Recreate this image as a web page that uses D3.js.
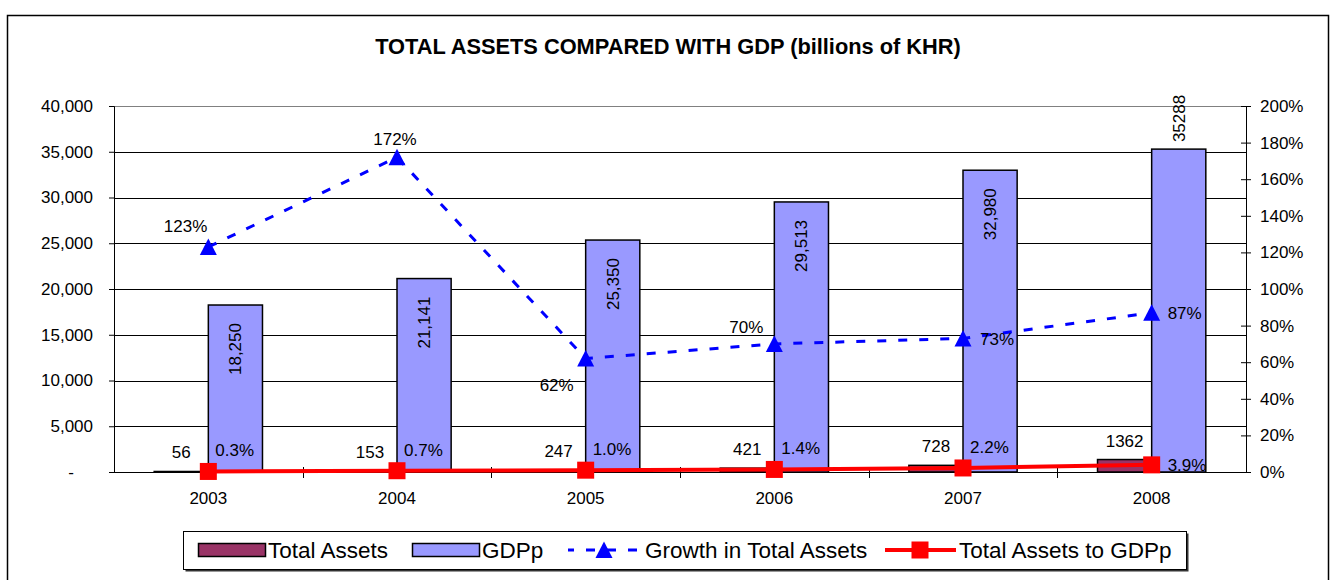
<!DOCTYPE html>
<html>
<head>
<meta charset="utf-8">
<script src="https://cdn.jsdelivr.net/npm/d3@7"></script>
<style>
  html, body { margin: 0; padding: 0; background: #fff; }
  svg { display: block; font-family: Arial, "Liberation Sans", sans-serif; }
</style>
</head>
<body>
<svg id="chart" width="1335" height="580"></svg>
<script>
// ---- data ----
const years = ['2003', '2004', '2005', '2006', '2007', '2008'];
const totalAssets = [56, 153, 247, 421, 728, 1362];
const gdp = [18250, 21141, 25350, 29513, 32980, 35288];
const gdpLabels = ['18,250', '21,141', '25,350', '29,513', '32,980', '35288'];
const growth = [1.23, 1.72, 0.62, 0.70, 0.73, 0.87];
const ratio = [0.003, 0.007, 0.010, 0.014, 0.022, 0.039];
const leftTicks = [0, 5000, 10000, 15000, 20000, 25000, 30000, 35000, 40000];
const rightTicks = [0, 0.2, 0.4, 0.6, 0.8, 1.0, 1.2, 1.4, 1.6, 1.8, 2.0];
const seriesNames = ['Total Assets', 'GDPp', 'Growth in Total Assets', 'Total Assets to GDPp'];
const titleText = 'TOTAL ASSETS COMPARED WITH GDP (billions of KHR)';

// ---- layout ----
const svg = d3.select('#chart');
const plot = { left: 114, right: 1246, top: 106, bottom: 472 };
const colTA = '#993366', colGDP = '#9999FF', colGrowth = '#0000FF', colRatio = '#FF0000';

const x = d3.scaleBand().domain(years).range([plot.left, plot.right]).padding(0);
const yL = d3.scaleLinear().domain([0, 40000]).range([plot.bottom, plot.top]);
const yR = d3.scaleLinear().domain([0, 2]).range([plot.bottom, plot.top]);
const cx = d => x(d) + x.bandwidth() / 2;
const barW = x.bandwidth() * 0.287;

svg.append('rect').attr('width', 1335).attr('height', 580).attr('fill', '#fff');
// outer chart border
svg.append('rect').attr('x', 7.5).attr('y', 15.5).attr('width', 1321).attr('height', 600)
  .attr('fill', 'none').attr('stroke', '#000').attr('stroke-width', 1.5);

// title
svg.append('text').attr('x', 668).attr('y', 54).attr('text-anchor', 'middle')
  .attr('font-size', 21.8).attr('font-weight', 'bold').text(titleText);

// gridlines
svg.append('g').selectAll('line').data(leftTicks.filter(t => t > 0)).join('line')
  .attr('x1', plot.left).attr('x2', plot.right)
  .attr('y1', d => Math.round(yL(d)) + 0.5).attr('y2', d => Math.round(yL(d)) + 0.5)
  .attr('stroke', d => d === 40000 ? '#808080' : '#000').attr('stroke-width', 1)
  .attr('shape-rendering', 'crispEdges');

// bars
svg.append('g').selectAll('rect').data(years).join('rect')
  .attr('x', (d) => cx(d) - barW).attr('width', barW)
  .attr('y', (d, i) => yL(totalAssets[i])).attr('height', (d, i) => yL(0) - yL(totalAssets[i]))
  .attr('fill', colTA).attr('stroke', '#000').attr('stroke-width', 1.5);
svg.append('g').selectAll('rect').data(years).join('rect')
  .attr('x', (d) => cx(d)).attr('width', barW)
  .attr('y', (d, i) => yL(gdp[i])).attr('height', (d, i) => yL(0) - yL(gdp[i]))
  .attr('fill', colGDP).attr('stroke', '#000').attr('stroke-width', 1.5);

// left axis
const leftAxis = d3.axisLeft(yL).tickValues(leftTicks).tickSize(5).tickPadding(16)
  .tickFormat(d => d === 0 ? '-' : d3.format(',')(d));
const gL = svg.append('g').attr('transform', `translate(${plot.left},0)`).call(leftAxis);
gL.selectAll('text').attr('font-size', 17).attr('fill', '#000')
  .attr('dx', d => d === 0 ? -19 : 0);
gL.selectAll('line, path').attr('stroke', '#000');
gL.attr('font-family', null);

// right axis
const rightAxis = d3.axisRight(yR).tickValues(rightTicks).tickSize(5).tickPadding(9)
  .tickFormat(d3.format('.0%'));
const gR = svg.append('g').attr('transform', `translate(${plot.right},0)`).call(rightAxis);
gR.selectAll('.tick line').attr('x1', -5);
gR.selectAll('text').attr('font-size', 17).attr('fill', '#000');
gR.selectAll('line, path').attr('stroke', '#000');
gR.attr('font-family', null);

// category axis
const gX = svg.append('g');
gX.append('line').attr('x1', plot.left).attr('x2', plot.right)
  .attr('y1', plot.bottom + 0.5).attr('y2', plot.bottom + 0.5).attr('stroke', '#000');
gX.selectAll('line.tk').data(years.slice(1)).join('line').attr('class', 'tk')
  .attr('x1', d => Math.round(x(d)) + 0.5).attr('x2', d => Math.round(x(d)) + 0.5)
  .attr('y1', plot.bottom - 5).attr('y2', plot.bottom + 6).attr('stroke', '#000');
gX.selectAll('text').data(years).join('text')
  .attr('x', d => cx(d)).attr('y', 504).attr('text-anchor', 'middle')
  .attr('font-size', 17).text(d => d);

// lines
const growthLine = d3.line().x((d, i) => cx(years[i])).y(d => yR(d));
svg.append('path').datum(growth).attr('d', growthLine).attr('fill', 'none')
  .attr('stroke', colGrowth).attr('stroke-width', 3).attr('stroke-dasharray', '9,12');
const ratioLine = d3.line().x((d, i) => cx(years[i])).y(d => yR(d));
svg.append('path').datum(ratio).attr('d', ratioLine).attr('fill', 'none')
  .attr('stroke', colRatio).attr('stroke-width', 4);

const triPath = 'M0,-8.5L8.5,8L-8.5,8Z';
svg.append('g').selectAll('path').data(growth).join('path')
  .attr('d', triPath).attr('fill', colGrowth)
  .attr('transform', (d, i) => `translate(${cx(years[i])},${yR(d)})`);
svg.append('g').selectAll('rect').data(ratio).join('rect')
  .attr('x', (d, i) => cx(years[i]) - 8.5).attr('y', d => yR(d) - 8.5)
  .attr('width', 17).attr('height', 17).attr('fill', colRatio);

// data labels
const lbl = svg.append('g').attr('font-size', 17).attr('fill', '#000');
// GDP labels (rotated)
lbl.selectAll('text.gdp').data(gdp).join('text').attr('class', 'gdp')
  .attr('text-anchor', (d, i) => i === gdp.length - 1 ? 'start' : 'end')
  .attr('transform', (d, i) => {
    const xx = cx(years[i]) + barW / 2 + 6;
    const yy = i === gdp.length - 1 ? yL(d) - 7 : yL(d) + 18;
    return `translate(${xx},${yy}) rotate(-90)`;
  })
  .text((d, i) => gdpLabels[i]);
// Total assets labels
lbl.selectAll('text.ta').data(totalAssets).join('text').attr('class', 'ta')
  .attr('x', (d, i) => cx(years[i]) - barW / 2).attr('y', d => yL(d) - 13)
  .attr('text-anchor', 'middle').text(d => d);
// Growth labels
const gPos = [
  { dx: -1, dy: -15, a: 'end' }, { dx: -2, dy: -12, a: 'middle' }, { dx: -12, dy: 32, a: 'end' },
  { dx: -11, dy: -11, a: 'end' }, { dx: 17, dy: 7, a: 'start' }, { dx: 16, dy: 6, a: 'start' }
];
lbl.selectAll('text.gr').data(growth).join('text').attr('class', 'gr')
  .attr('x', (d, i) => cx(years[i]) + gPos[i].dx).attr('y', d => yR(d))
  .attr('dy', (d, i) => gPos[i].dy).attr('text-anchor', (d, i) => gPos[i].a)
  .text(d => d3.format('.0%')(d));
// Ratio labels
lbl.selectAll('text.rt').data(ratio).join('text').attr('class', 'rt')
  .attr('x', (d, i) => cx(years[i]) + (i === ratio.length - 1 ? 16 : 7))
  .attr('y', (d, i) => i === ratio.length - 1 ? yR(d) + 6 : yR(d) - 15)
  .text(d => d3.format('.1%')(d));

// legend
const lg = svg.append('g');
lg.append('rect').attr('x', 185.5).attr('y', 533.5).attr('width', 1003).attr('height', 38)
  .attr('fill', '#333');
lg.append('rect').attr('x', 183.5).attr('y', 531.5).attr('width', 1003).attr('height', 38)
  .attr('fill', '#fff').attr('stroke', '#000').attr('stroke-width', 1);
const ly = 550, lfs = 22.5, lby = ly + 8;
lg.append('rect').attr('x', 198.5).attr('y', 543.5).attr('width', 67).attr('height', 13)
  .attr('fill', colTA).attr('stroke', '#000').attr('stroke-width', 1.5);
lg.append('text').attr('x', 268).attr('y', lby).attr('font-size', lfs).text(seriesNames[0]);
lg.append('rect').attr('x', 412.5).attr('y', 543.5).attr('width', 67).attr('height', 13)
  .attr('fill', colGDP).attr('stroke', '#000').attr('stroke-width', 1.5);
lg.append('text').attr('x', 482).attr('y', lby).attr('font-size', lfs).text(seriesNames[1]);
lg.append('line').attr('x1', 568).attr('x2', 642).attr('y1', ly).attr('y2', ly)
  .attr('stroke', colGrowth).attr('stroke-width', 3).attr('stroke-dasharray', '9,12')
  .attr('stroke-dashoffset', 3);
lg.append('path').attr('d', triPath).attr('fill', colGrowth).attr('transform', `translate(604,${ly})`);
lg.append('text').attr('x', 645).attr('y', lby).attr('font-size', lfs).text(seriesNames[2]);
lg.append('line').attr('x1', 885).attr('x2', 956).attr('y1', ly).attr('y2', ly)
  .attr('stroke', colRatio).attr('stroke-width', 4);
lg.append('rect').attr('x', 920 - 8.5).attr('y', ly - 8.5).attr('width', 17).attr('height', 17).attr('fill', colRatio);
lg.append('text').attr('x', 959).attr('y', lby).attr('font-size', lfs).text(seriesNames[3]);
</script>
</body>
</html>
